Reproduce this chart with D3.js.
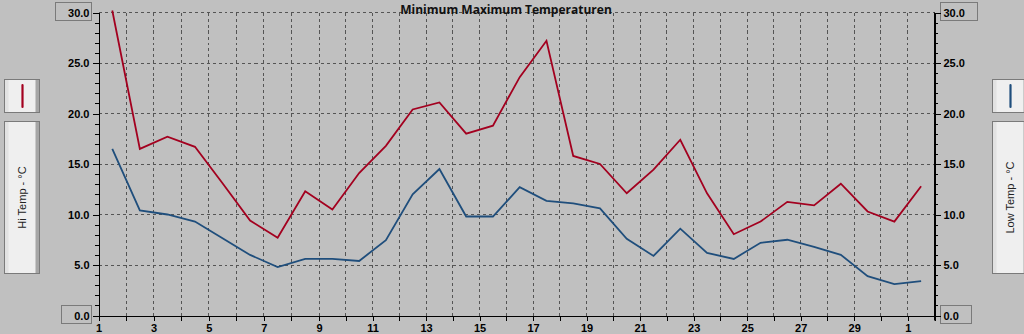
<!DOCTYPE html>
<html>
<head>
<meta charset="utf-8">
<script src="https://cdn.jsdelivr.net/npm/d3@7"></script>
<style>
    html, body { margin: 0; padding: 0; background: #c0c0c0; }
    svg { display: block; }
    .axis text { font-family: "Liberation Sans", Arial, sans-serif; font-size: 11px; font-weight: bold; fill: #000; }
    .title { font-family: "Open Sans", sans-serif; font-size: 12px; font-weight: bold; fill: #111; }
    .legend-text { font-family: "Liberation Sans", Arial, sans-serif; font-size: 11px; fill: #222; }
</style>
</head>
<body>
<svg id="chart" width="1024" height="334"></svg>
<script>
// data, one reading per day (plotted at midday)
const days = [1.5, 2.5, 3.5, 4.5, 5.5, 6.5, 7.5, 8.5, 9.5, 10.5, 11.5, 12.5, 13.5, 14.5, 15.5, 16.5,
    17.5, 18.5, 19.5, 20.5, 21.5, 22.5, 23.5, 24.5, 25.5, 26.5, 27.5, 28.5, 29.5, 30.5, 31.5];
const hiTemp = [30.2, 16.5, 17.7, 16.7, 13.1, 9.4, 7.7, 12.3, 10.5, 14.1, 16.8, 20.4, 21.1, 18.0, 18.8, 23.6,
    27.2, 15.8, 15.0, 12.1, 14.45, 17.4, 12.1, 8.05, 9.3, 11.25, 10.9, 13.05, 10.3, 9.3, 12.8];
const lowTemp = [16.5, 10.4, 10.0, 9.3, 7.65, 6.0, 4.8, 5.6, 5.6, 5.4, 7.45, 12.0, 14.5, 9.8, 9.8, 12.7,
    11.35, 11.1, 10.6, 7.6, 5.9, 8.6, 6.2, 5.6, 7.2, 7.5, 6.8, 6.0, 3.9, 3.1, 3.4];

const xTicks = [1, 3, 5, 7, 9, 11, 13, 15, 17, 19, 21, 23, 25, 27, 29, 31];
const xTickLabels = ["1", "3", "5", "7", "9", "11", "13", "15", "17", "19", "21", "23", "25", "27", "29", "1"];
const yTicks = [0, 5, 10, 15, 20, 25, 30];

const seriesNames = ["Hi Temp - °C", "Low Temp - °C"];
const seriesColors = ["#a3001f", "#1f4e7c"];
const chartTitle = "Minimum Maximum Temperaturen";

class TempChart {
    constructor(svgId) {
        this.svg = d3.select(svgId);
        this.left = 98.5;
        this.right = 934.5;
        this.top = 12.5;
        this.bottom = 315.5;

        // the original day axis is a touch uneven, so pin day 9 as well
        this.x = d3.scaleLinear().domain([1, 9, 32]).range([this.left, 319, this.right]);
        this.y = d3.scaleLinear().domain([0, 30]).range([this.bottom, this.top]);

        this.init();
    }

    init() {
        this.drawGrid();
        this.drawAxes();
        this.drawBoxes();
        this.drawLines();
        this.drawTitle();
        this.drawLegend(4.5, seriesColors[0], seriesNames[0]);
        this.drawLegend(992.5, seriesColors[1], seriesNames[1]);
    }

    drawGrid() {
        const g = this.svg.append("g")
            .attr("stroke", "#555")
            .attr("stroke-dasharray", "3,3")
            .attr("shape-rendering", "crispEdges");

        g.selectAll(".vgrid")
            .data(d3.range(2, 32))
            .enter().append("line")
            .attr("x1", d => this.x(d))
            .attr("x2", d => this.x(d))
            .attr("y1", this.top)
            .attr("y2", this.bottom);

        g.selectAll(".hgrid")
            .data(yTicks.filter(d => d > 0))
            .enter().append("line")
            .attr("x1", this.left)
            .attr("x2", this.right)
            .attr("y1", d => this.y(d))
            .attr("y2", d => this.y(d));
    }

    drawAxes() {
        const fmt = d3.format(".1f");
        const minor = d3.range(0, 31);

        // left
        this.svg.append("g")
            .attr("transform", `translate(${this.left},0)`)
            .call(d3.axisLeft(this.y).tickValues(minor).tickSize(4).tickSizeOuter(0).tickFormat(""));
        this.svg.append("g")
            .attr("class", "axis")
            .attr("transform", `translate(${this.left},0)`)
            .call(d3.axisLeft(this.y).tickValues(yTicks).tickSize(6).tickSizeOuter(0).tickPadding(3).tickFormat(fmt));

        // right
        this.svg.append("g")
            .attr("transform", `translate(${this.right},0)`)
            .call(d3.axisRight(this.y).tickValues(minor).tickSize(3).tickSizeOuter(0).tickFormat(""));
        this.svg.append("g")
            .attr("class", "axis")
            .attr("transform", `translate(${this.right},0)`)
            .call(d3.axisRight(this.y).tickValues(yTicks).tickSize(6).tickSizeOuter(0).tickPadding(3).tickFormat(fmt));

        // bottom
        this.svg.append("g")
            .attr("transform", `translate(0,${this.bottom})`)
            .call(d3.axisBottom(this.x).tickValues(d3.range(1, 33)).tickSize(5).tickSizeOuter(0).tickFormat(""));
        this.svg.append("g")
            .attr("class", "axis")
            .attr("transform", `translate(0,${this.bottom})`)
            .call(d3.axisBottom(this.x).tickValues(xTicks).tickSize(5).tickSizeOuter(0).tickPadding(4)
                .tickFormat((d, i) => xTickLabels[i]));

        // right axis runs a bit past the bottom
        this.svg.append("line")
            .attr("x1", this.right).attr("x2", this.right)
            .attr("y1", this.top).attr("y2", this.bottom + 5)
            .attr("stroke", "#000");

        this.svg.selectAll(".axis text").attr("font-family", null).attr("font-size", null);
        this.svg.selectAll("g path, g line").attr("shape-rendering", "crispEdges");
    }

    drawBoxes() {
        // min / max fields at the ends of both value axes
        const boxes = [
            { x: 55.5, w: 36, v: 30 },
            { x: 61.5, w: 30, v: 0 },
            { x: 940.5, w: 37, v: 30 },
            { x: 940.5, w: 31, v: 0 }
        ];
        this.svg.insert("g", ":first-child")
            .selectAll("rect")
            .data(boxes)
            .enter().append("rect")
            .attr("x", d => d.x)
            .attr("y", d => Math.round(this.y(d.v)) - 10.5)
            .attr("width", d => d.w)
            .attr("height", 18)
            .attr("fill", "#c0c0c0")
            .attr("stroke", "#7a7a7a");
    }

    drawLines() {
        const line = d3.line()
            .x(d => this.x(d[0]))
            .y(d => this.y(d[1]));

        [hiTemp, lowTemp].forEach((vals, i) => {
            this.svg.append("path")
                .datum(vals.map((v, j) => [days[j], v]))
                .attr("fill", "none")
                .attr("stroke", seriesColors[i])
                .attr("stroke-width", 1.8)
                .attr("d", line);
        });
    }

    drawTitle() {
        this.svg.append("text")
            .attr("class", "title")
            .attr("x", 506)
            .attr("y", 13.5)
            .attr("text-anchor", "middle")
            .text(chartTitle);
    }

    drawLegend(x0, color, label) {
        const g = this.svg.append("g").attr("transform", `translate(${x0},0)`);
        const w = 35;

        [[79.5, 33], [121.5, 152]].forEach(([y0, h]) => {
            g.append("rect").attr("x", 0).attr("y", y0).attr("width", w).attr("height", h)
                .attr("fill", "#efefef").attr("stroke", "#7a7a7a");
            g.append("rect").attr("x", 0.5).attr("y", y0 + 0.5).attr("width", 3.5).attr("height", h - 1)
                .attr("fill", "#e2e2e2");
            g.append("rect").attr("x", w - 4).attr("y", y0 + 0.5).attr("width", 3.5).attr("height", h - 1)
                .attr("fill", "#a6a6a6");
        });

        g.append("line")
            .attr("x1", w / 2 + 0.5).attr("x2", w / 2 + 0.5)
            .attr("y1", 85).attr("y2", 107)
            .attr("stroke", color)
            .attr("stroke-width", 2.2)
            .attr("stroke-linecap", "round");

        g.append("text")
            .attr("class", "legend-text")
            .attr("transform", `translate(${w / 2 + 4},${197.5}) rotate(-90)`)
            .attr("text-anchor", "middle")
            .text(label);
    }
}

new TempChart("#chart");
</script>
</body>
</html>
